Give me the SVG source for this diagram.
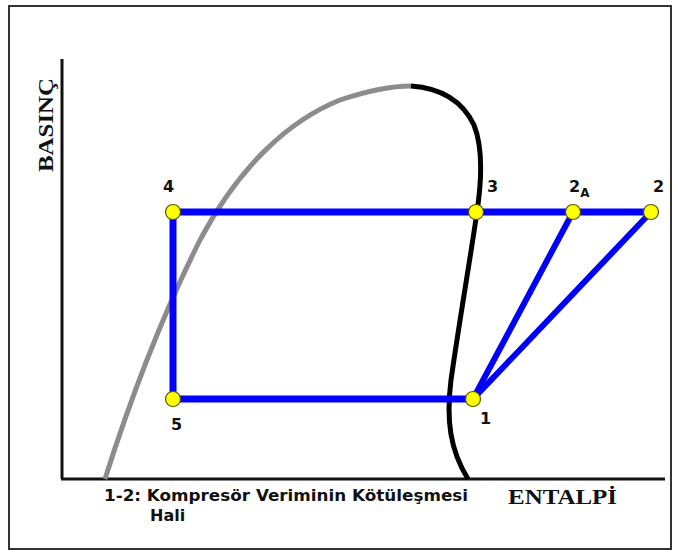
<svg xmlns="http://www.w3.org/2000/svg" width="678" height="556" viewBox="0 0 678 556">
<style>
.cyc{stroke:#0000ff;stroke-width:7;fill:none;stroke-linecap:round}
.pt{fill:#ffff00;stroke:#555500;stroke-width:1.2}
.num{font-family:"DejaVu Sans","Liberation Sans",sans-serif;font-weight:bold;font-size:16px;fill:#111}
.ser{font-family:"Liberation Serif","DejaVu Serif",serif;font-weight:bold;fill:#111}
</style>
<rect x="0" y="0" width="678" height="556" fill="#fff"/>
<rect x="9" y="6" width="662" height="543" fill="none" stroke="#333" stroke-width="2"/>
<g id="axes" stroke="#111" stroke-width="3" fill="none">
<line x1="62" y1="59" x2="62" y2="479"/>
<line x1="61" y1="479" x2="665" y2="479"/>
</g>
<g id="curves" fill="none">
<path d="M105,479 C130,400 160,320 200,240 C240,165 290,120 340,100 C370,90 395,86 411,86" stroke="#8c8c8c" stroke-width="5"/>
<path d="M411,86 C440,88 462,100 474,125 C484,150 481,185 477,212 C470,260 458,330 451,380 C446,420 450,450 468,479" stroke="#000" stroke-width="5"/>
</g>
<g id="connectors">
<line class="cyc" x1="173" y1="212" x2="651" y2="212"/>
<line class="cyc" x1="173" y1="212" x2="173" y2="399"/>
<line class="cyc" x1="173" y1="399" x2="473" y2="399"/>
<line class="cyc" x1="473" y1="399" x2="573" y2="212" style="stroke-width:6"/>
<line class="cyc" x1="473" y1="399" x2="651" y2="212" style="stroke-width:6"/>
</g>
<g id="n4"><circle class="pt" cx="173" cy="212" r="7.5"/><text class="num" x="163" y="192">4</text></g>
<g id="n3"><circle class="pt" cx="476" cy="212" r="7.5"/><text class="num" x="487" y="192">3</text></g>
<g id="n2A"><circle class="pt" cx="573" cy="212" r="7.5"/><text class="num" x="569" y="192">2<tspan font-size="12" dy="5">A</tspan></text></g>
<g id="n2"><circle class="pt" cx="651" cy="212" r="7.5"/><text class="num" x="653" y="192">2</text></g>
<g id="n5"><circle class="pt" cx="173" cy="399" r="7.5"/><text class="num" x="171" y="430">5</text></g>
<g id="n1"><circle class="pt" cx="473" cy="399" r="7.5"/><text class="num" x="480" y="424">1</text></g>
<text class="ser" font-size="20" transform="translate(53,172) rotate(-90)" textLength="94" lengthAdjust="spacingAndGlyphs">BASINÇ</text>
<text class="ser" font-size="20" x="508" y="504" textLength="109" lengthAdjust="spacingAndGlyphs">ENTALPİ</text>
<text class="num" font-size="14" x="104" y="501" textLength="364" lengthAdjust="spacingAndGlyphs">1-2: Kompresör Veriminin Kötüleşmesi</text>
<text class="num" font-size="14" x="150" y="521">Hali</text>
</svg>
